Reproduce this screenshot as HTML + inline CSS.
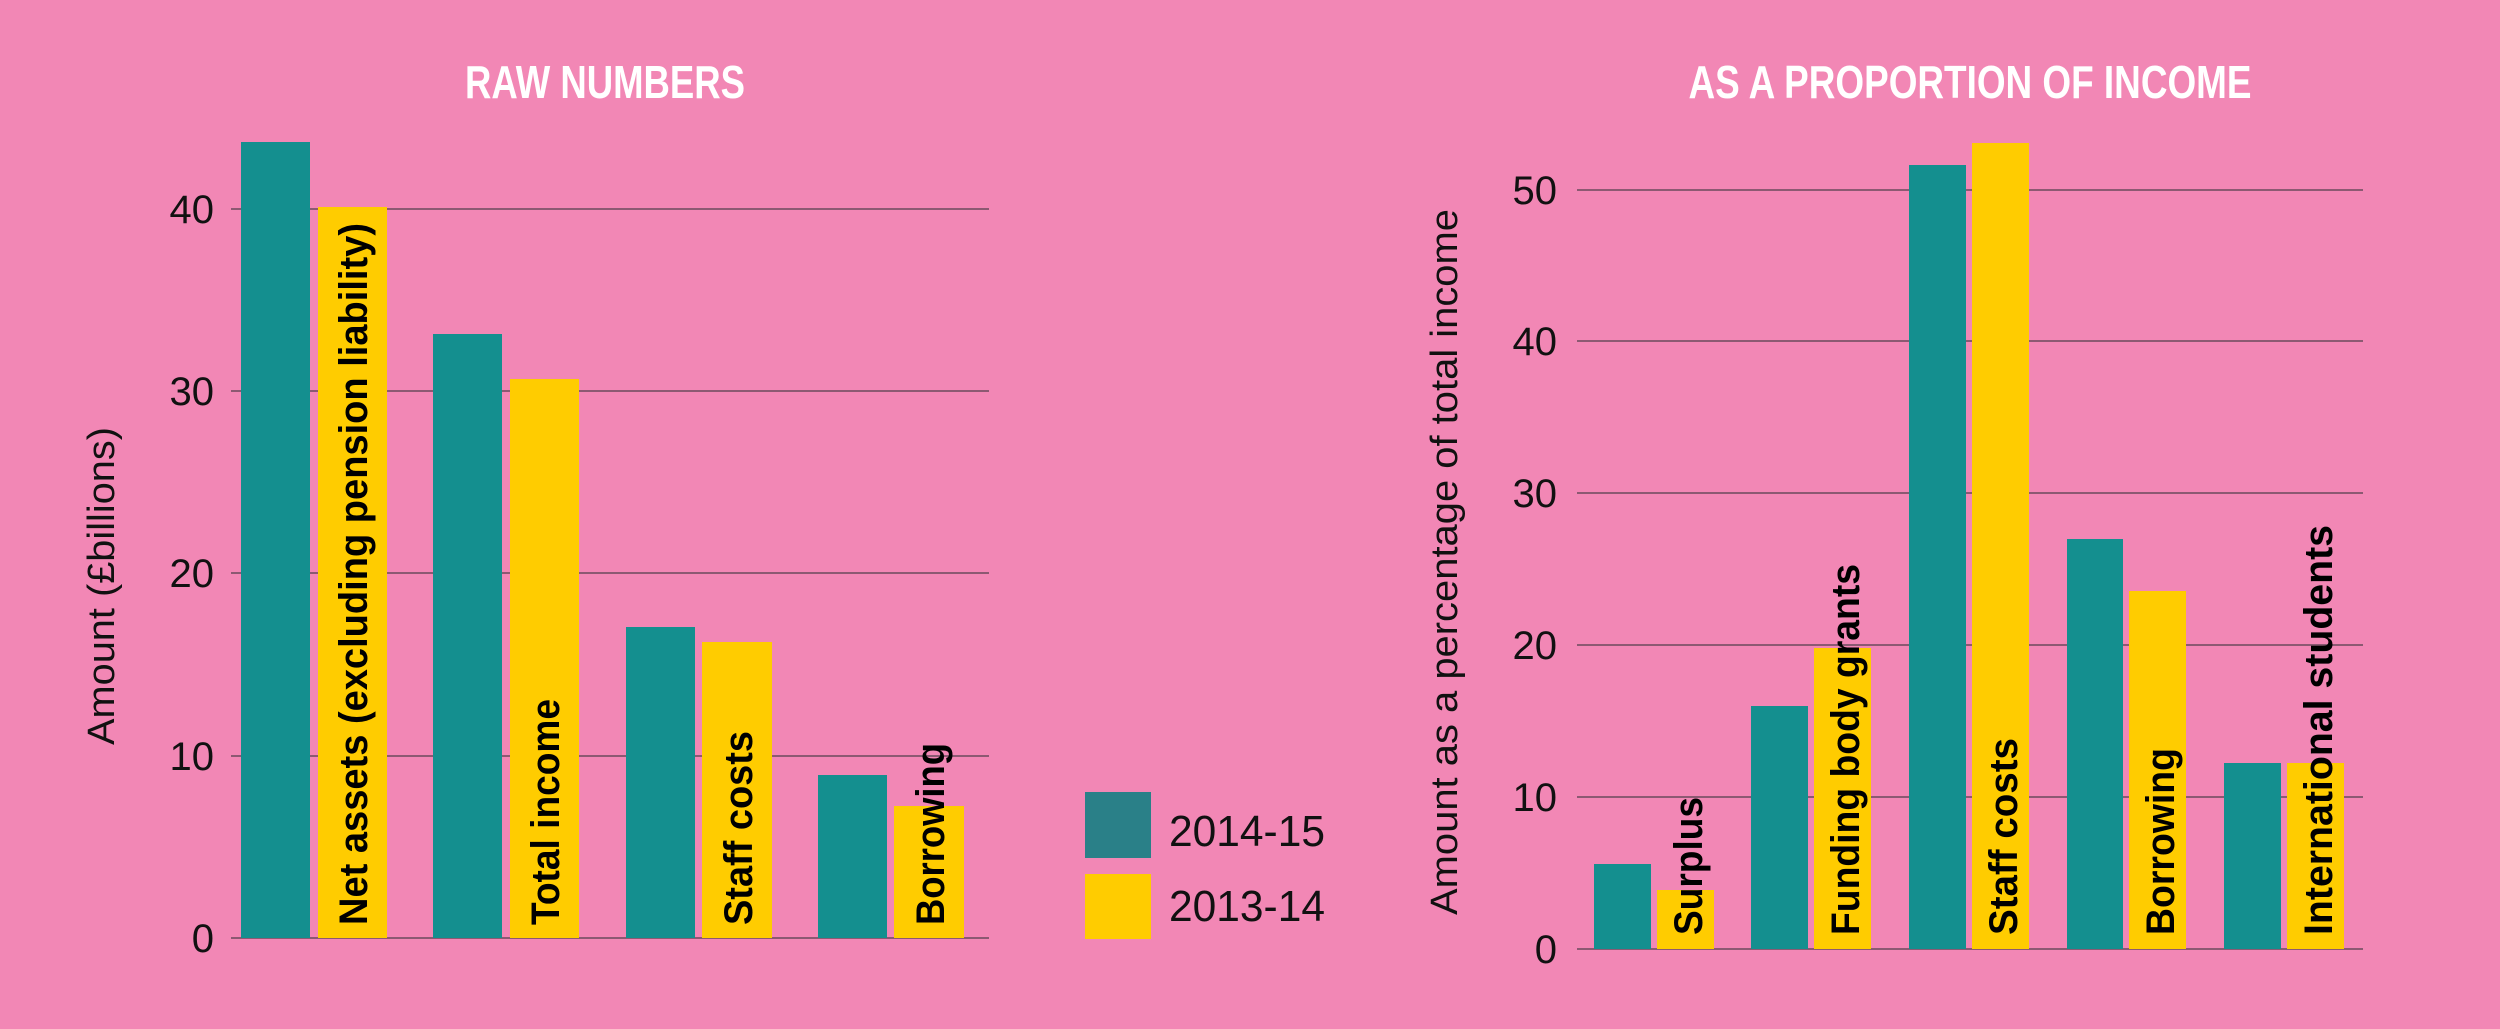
<!DOCTYPE html>
<html><head><meta charset="utf-8"><style>
html,body{margin:0;padding:0;background:#f287b5;}
svg{display:block}
text{font-family:"Liberation Sans Narrow","Liberation Sans",sans-serif;}
</style></head><body>
<svg width="2500" height="1029" viewBox="0 0 2500 1029" xmlns="http://www.w3.org/2000/svg">
<rect width="2500" height="1029" fill="#f287b5"/>
<!-- LEFT CHART -->
<text x="605" y="98" text-anchor="middle" font-size="46" font-weight="bold" fill="#fff" textLength="280" lengthAdjust="spacingAndGlyphs">RAW NUMBERS</text>
<g stroke="#6b4a5c" stroke-width="1.5">
<line x1="231" y1="209" x2="989" y2="209"/>
<line x1="231" y1="391" x2="989" y2="391"/>
<line x1="231" y1="573" x2="989" y2="573"/>
<line x1="231" y1="756" x2="989" y2="756"/>
<line x1="231" y1="938" x2="989" y2="938"/>
</g>
<g font-size="40" fill="#111" text-anchor="end">
<text x="214" y="223">40</text><text x="214" y="405">30</text><text x="214" y="587">20</text><text x="214" y="770">10</text><text x="214" y="952">0</text>
</g>
<text transform="translate(114,586) rotate(-90)" text-anchor="middle" font-size="38" fill="#111" textLength="318" lengthAdjust="spacingAndGlyphs">Amount (£billions)</text>
<g fill="#148f8f">
<rect x="241" y="142" width="69" height="796"/>
<rect x="433" y="334" width="69" height="604"/>
<rect x="626" y="627" width="69" height="311"/>
<rect x="818" y="775" width="69" height="163"/>
</g>
<g fill="#ffcc00">
<rect x="318" y="207" width="69" height="731"/>
<rect x="510" y="379" width="69" height="559"/>
<rect x="702" y="642" width="70" height="296"/>
<rect x="894" y="806" width="70" height="132"/>
</g>
<g font-size="40" font-weight="bold" fill="#000" font-family="Liberation Sans, sans-serif">
<text transform="translate(367,925) rotate(-90)" textLength="702" lengthAdjust="spacingAndGlyphs">Net assets (excluding pension liability)</text>
<text transform="translate(559,925) rotate(-90)" textLength="226" lengthAdjust="spacingAndGlyphs">Total income</text>
<text transform="translate(752,925) rotate(-90)" textLength="194" lengthAdjust="spacingAndGlyphs">Staff costs</text>
<text transform="translate(944,925) rotate(-90)" textLength="182" lengthAdjust="spacingAndGlyphs">Borrowing</text>
</g>
<!-- LEGEND -->
<rect x="1085" y="792" width="66" height="66" fill="#2a8088"/>
<rect x="1085" y="874" width="66" height="65" fill="#ffcc00"/>
<text x="1169" y="846" font-size="44" fill="#111" textLength="156" lengthAdjust="spacingAndGlyphs">2014-15</text>
<text x="1169" y="921" font-size="44" fill="#111" textLength="156" lengthAdjust="spacingAndGlyphs">2013-14</text>
<!-- RIGHT CHART -->
<text x="1970" y="98" text-anchor="middle" font-size="46" font-weight="bold" fill="#fff" textLength="563" lengthAdjust="spacingAndGlyphs">AS A PROPORTION OF INCOME</text>
<g stroke="#6b4a5c" stroke-width="1.5">
<line x1="1577" y1="190" x2="2363" y2="190"/>
<line x1="1577" y1="341" x2="2363" y2="341"/>
<line x1="1577" y1="493" x2="2363" y2="493"/>
<line x1="1577" y1="645" x2="2363" y2="645"/>
<line x1="1577" y1="797" x2="2363" y2="797"/>
<line x1="1577" y1="949" x2="2363" y2="949"/>
</g>
<g font-size="40" fill="#111" text-anchor="end">
<text x="1557" y="204">50</text><text x="1557" y="355">40</text><text x="1557" y="507">30</text><text x="1557" y="659">20</text><text x="1557" y="811">10</text><text x="1557" y="963">0</text>
</g>
<text transform="translate(1457,562) rotate(-90)" text-anchor="middle" font-size="38" fill="#111" textLength="706" lengthAdjust="spacingAndGlyphs">Amount as a percentage of total income</text>
<g fill="#148f8f">
<rect x="1594" y="864" width="57" height="85"/>
<rect x="1751" y="706" width="57" height="243"/>
<rect x="1909" y="165" width="57" height="784"/>
<rect x="2067" y="539" width="56" height="410"/>
<rect x="2224" y="763" width="57" height="186"/>
</g>
<g fill="#ffcc00">
<rect x="1657" y="890" width="57" height="59"/>
<rect x="1814" y="648" width="57" height="301"/>
<rect x="1972" y="143" width="57" height="806"/>
<rect x="2129" y="591" width="57" height="358"/>
<rect x="2287" y="763" width="57" height="186"/>
</g>
<g font-size="40" font-weight="bold" fill="#000" font-family="Liberation Sans, sans-serif">
<text transform="translate(1702,935) rotate(-90)" textLength="138" lengthAdjust="spacingAndGlyphs">Surplus</text>
<text transform="translate(1859,935) rotate(-90)" textLength="371" lengthAdjust="spacingAndGlyphs">Funding body grants</text>
<text transform="translate(2017,935) rotate(-90)" textLength="197" lengthAdjust="spacingAndGlyphs">Staff costs</text>
<text transform="translate(2174,935) rotate(-90)" textLength="187" lengthAdjust="spacingAndGlyphs">Borrowing</text>
<text transform="translate(2332,935) rotate(-90)" textLength="410" lengthAdjust="spacingAndGlyphs">International students</text>
</g>
</svg>
</body></html>
